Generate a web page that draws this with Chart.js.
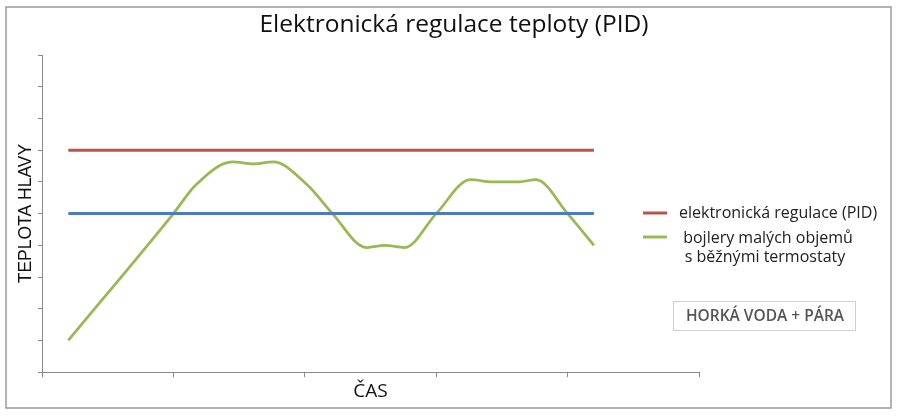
<!DOCTYPE html>
<html>
<head>
<meta charset="utf-8">
<script src="https://cdn.jsdelivr.net/npm/chart.js@4/dist/chart.umd.min.js"></script>
<style>
  html, body { margin: 0; padding: 0; background: #fff; }
  #wrap { width: 900px; height: 419px; }
</style>
</head>
<body>
<div id="wrap"><canvas id="pidChart" width="900" height="419"></canvas></div>
<script>
// time axis (x) and temperature (y) readings
var cas = [0.2, 1.0, 1.17, 1.45, 1.61, 1.76, 2.02, 2.21, 2.47, 2.61, 2.76, 3.0, 3.26, 3.43, 3.63, 3.76, 4.0, 4.2];
var bojlery = [1, 5, 5.9, 6.63, 6.57, 6.63, 5.9, 5, 3.93, 4, 3.93, 5, 6.07, 6, 6, 6.07, 5, 4];
var casPID = [0.2, 4.2];
var regulacePID = [7, 7];
var pracovniTeplota = [5, 5];
var yTicks = [0, 10, 1];
var xTicks = [0, 5, 1];

var nadpis = 'Elektronická regulace teploty (PID)';
var legendaPID = 'elektronická regulace (PID)';
var legendaBojlery = ['bojlery malých objemů', 's běžnými termostaty'];
var stitek = 'HORKÁ VODA + PÁRA';

function toPoints(xs, ys) {
  return xs.map(function (x, i) { return { x: x, y: ys[i] }; });
}

var extras = {
  id: 'extras',
  beforeDraw: function (chart) {
    var ctx = chart.ctx;
    ctx.save();
    ctx.fillStyle = '#fff';
    ctx.fillRect(0, 0, chart.width, chart.height);
    ctx.strokeStyle = '#9a9a9a';
    ctx.lineWidth = 1.5;
    ctx.strokeRect(6, 7, 885, 401);
    ctx.restore();
  },
  afterDraw: function (chart) {
    var ctx = chart.ctx;
    ctx.save();
    // title
    ctx.fillStyle = '#111';
    ctx.font = '24.5px "Open Sans"';
    ctx.textAlign = 'center';
    ctx.textBaseline = 'middle';
    ctx.fillText(nadpis, 454, 25);

    // legend
    ctx.lineWidth = 3;
    ctx.strokeStyle = '#C0504D';
    ctx.beginPath(); ctx.moveTo(643, 213); ctx.lineTo(667, 213); ctx.stroke();
    ctx.strokeStyle = '#98B954';
    ctx.beginPath(); ctx.moveTo(643, 237); ctx.lineTo(667, 237); ctx.stroke();
    ctx.fillStyle = '#222';
    ctx.font = '16px "Open Sans"';
    ctx.textAlign = 'left';
    ctx.fillText(legendaPID, 679, 213);
    ctx.textAlign = 'center';
    ctx.fillText(legendaBojlery[0], 768, 238);
    ctx.fillText(legendaBojlery[1], 765, 257);

    // label box
    ctx.strokeStyle = '#cfcfcf';
    ctx.lineWidth = 1;
    ctx.strokeRect(673.5, 301.5, 182, 29);
    ctx.fillStyle = '#555';
    ctx.font = '600 15.5px "Open Sans"';
    ctx.fillText(stitek, 765, 317);
    ctx.restore();
  }
};

var ctx = document.getElementById('pidChart');
var pidChart = new Chart(ctx, {
  type: 'line',
  data: {
    datasets: [{
      label: 'elektronická regulace (PID)',
      data: toPoints(casPID, regulacePID),
      borderColor: '#C0504D',
      borderWidth: 3,
      pointRadius: 0
    }, {
      label: 'pracovní teplota',
      data: toPoints(casPID, pracovniTeplota),
      borderColor: '#4A7EBB',
      borderWidth: 3,
      pointRadius: 0
    }, {
      label: 'bojlery malých objemů s běžnými termostaty',
      data: toPoints(cas, bojlery),
      borderColor: '#98B954',
      borderWidth: 2.75,
      pointRadius: 0,
      cubicInterpolationMode: 'monotone'
    }]
  },
  options: {
    responsive: false,
    animation: false,
    layout: {
      padding: { left: 10, right: 201, top: 55, bottom: 13 }
    },
    plugins: {
      legend: { display: false },
      title: { display: false },
      tooltip: { enabled: false }
    },
    scales: {
      x: {
        type: 'linear',
        min: xTicks[0],
        max: xTicks[1],
        ticks: { stepSize: xTicks[2], display: false },
        grid: { drawOnChartArea: false, tickLength: 5, color: '#8a8a8a' },
        border: { color: '#8a8a8a', width: 1 },
        title: {
          display: true,
          text: 'ČAS',
          color: '#111',
          font: { family: '"Open Sans"', size: 19 },
          padding: { top: 3, bottom: 3 }
        }
      },
      y: {
        min: yTicks[0],
        max: yTicks[1],
        ticks: { stepSize: yTicks[2], display: false },
        grid: { drawOnChartArea: false, tickLength: 4, color: '#8a8a8a' },
        border: { color: '#8a8a8a', width: 1 },
        title: {
          display: true,
          text: 'TEPLOTA HLAVY',
          color: '#111',
          font: { family: '"Liberation Sans", Arial', size: 17.5 },
          padding: { top: 6, bottom: 1 }
        }
      }
    }
  },
  plugins: [extras]
});
</script>
</body>
</html>
